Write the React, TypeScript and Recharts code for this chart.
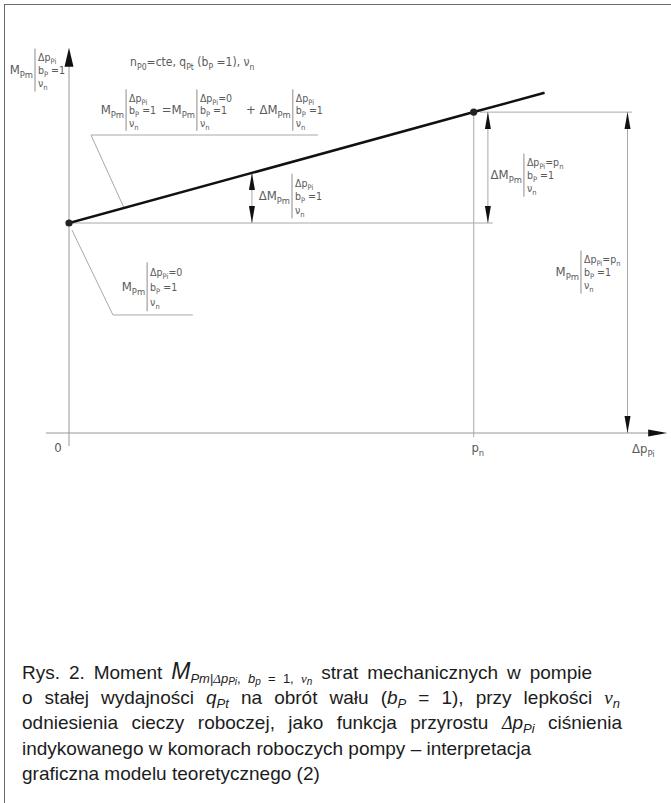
import React from "react";
import {
  ComposedChart,
  Line,
  XAxis,
  YAxis,
  ReferenceLine,
  ReferenceDot,
} from "recharts";

// Δp_Pi on the x axis (p_n = 100), M_Pm on the y axis
const pressure = [0, 100, 117.5];
const moment = [50, 76.4, 81.0];
const P_N = 100;
const M_0 = 50;
const M_N = 76.4;
const axisLabels = ["0", "p_{n}", "Δp_{Pi}"];

const lineData = pressure.map((p, i) => ({ dp: p, m: moment[i] }));

const CAD_FONT = "'Liberation Sans Narrow', 'DejaVu Sans Condensed', 'Liberation Sans', sans-serif";
const TXT = "#5a5a5a";
const GUIDE = "#a8a8a8";

// "Δp_{Pi}=p_{n}" -> tspans with subscripts
function rich(s: string, size: number) {
  const parts = s.split(/_\{([^}]*)\}/);
  const out: React.ReactNode[] = [];
  let shifted = false;
  const d = size * 0.3;
  parts.forEach((p, i) => {
    if (!p) return;
    if (i % 2 === 1) {
      out.push(
        <tspan key={i} dy={shifted ? 0 : d} fontSize={size * 0.72}>
          {p}
        </tspan>
      );
      shifted = true;
    } else {
      out.push(
        <tspan key={i} dy={shifted ? -d : 0} fontSize={size}>
          {p}
        </tspan>
      );
      shifted = false;
    }
  });
  return out;
}

const StackLabel = ({ cx, cy, main, rows, gap = 13.5 }: any) => (
  <g fill={TXT} fontFamily={CAD_FONT}>
    <text x={cx - 2} y={cy + 4} textAnchor="end" fontSize={13}>
      {rich(main, 13)}
    </text>
    <line
      x1={cx}
      x2={cx}
      y1={cy - gap * 1.5 - 2}
      y2={cy + gap * 1.5 + 2}
      stroke="#8c8c8c"
      strokeWidth={1}
    />
    {rows.map((r: string, i: number) => (
      <text key={i} x={cx + 3} y={cy + (i - 1) * gap + 4} fontSize={10.5}>
        {rich(r, 10.5)}
      </text>
    ))}
  </g>
);

const arrow =
  (dir: "up" | "down" | "right", len: number, hw: number) => (props: any) => {
    const { cx, cy } = props;
    let d = "";
    if (dir === "up") d = `M${cx},${cy} L${cx - hw},${cy + len} L${cx + hw},${cy + len} Z`;
    if (dir === "down") d = `M${cx},${cy} L${cx - hw},${cy - len} L${cx + hw},${cy - len} Z`;
    if (dir === "right") d = `M${cx},${cy} L${cx - len},${cy - hw} L${cx - len},${cy + hw} Z`;
    return <path d={d} fill="#111" />;
  };

const textAt =
  (s: string, anchor: "start" | "middle" | "end", size = 12) => (props: any) =>
    (
      <text
        x={props.cx}
        y={props.cy}
        textAnchor={anchor}
        fill={TXT}
        fontFamily={CAD_FONT}
        fontSize={size}
      >
        {rich(s, size)}
      </text>
    );

const stackAt = (main: string, rows: string[], gap?: number) => (props: any) =>
  <StackLabel cx={props.cx} cy={props.cy} main={main} rows={rows} gap={gap} />;

const guide = (a: [number, number], b: [number, number], key: string, color = GUIDE) => (
  <ReferenceLine
    key={key}
    segment={[
      { x: a[0], y: a[1] },
      { x: b[0], y: b[1] },
    ]}
    stroke={color}
    strokeWidth={1}
    ifOverflow="visible"
  />
);

const lineAt = (x: number) => M_0 + ((M_N - M_0) / P_N) * x;

const dimX = [45.2, 103.5, 138.0];

const sub = (t: string, size = 13) => (
  <span style={{ fontSize: size, fontStyle: "italic", verticalAlign: "-4px", lineHeight: 0 }}>
    {t}
  </span>
);
const serifI = (t: string, size = 19) => (
  <span style={{ fontFamily: "'Liberation Serif', serif", fontStyle: "italic", fontSize: size }}>
    {t}
  </span>
);
const small = (t: string) => (
  <span style={{ fontSize: 10, fontStyle: "italic", verticalAlign: "-2px" }}>{t}</span>
);

const justified = (w: number): React.CSSProperties => ({
  width: w,
  textAlign: "justify",
  textAlignLast: "justify",
});

export default function App() {
  return (
    <div style={{ position: "absolute", left: 0, top: 0, width: 671, height: 803, background: "#fff" }}>
      <div
        style={{
          position: "absolute",
          left: 4,
          top: 4,
          width: 667,
          height: 799,
          borderTop: "1.5px solid #6b6b6b",
          borderLeft: "1.5px solid #6b6b6b",
        }}
      />
      <div style={{ position: "absolute", left: 0, top: 0 }}>
        <ComposedChart
          width={671}
          height={803}
          data={lineData}
          margin={{ top: 13, right: 3, bottom: 370, left: 69 }}
        >
          <XAxis dataKey="dp" type="number" domain={[0, 148]} hide allowDataOverflow />
          <YAxis type="number" domain={[0, 100]} hide allowDataOverflow />

          {/* axes */}
          {guide([-5.7, 0], [146, 0], "xa", "#999")}
          {guide([0, -3.1], [0, 90], "ya", "#999")}
          {/* construction lines */}
          {guide([P_N, -1], [P_N, M_N], "pn")}
          {guide([0, M_0], [104.7, M_0], "m0")}
          {guide([101.5, M_N], [139.1, M_N], "mn")}
          {guide([dimX[0], lineAt(dimX[0])], [dimX[0], M_0], "d0")}
          {guide([dimX[1], M_N], [dimX[1], M_0], "d1")}
          {guide([dimX[2], M_N], [dimX[2], 0], "d2")}
          {/* leaders */}
          {guide([5.43, 70.95], [13.6, lineAt(13.6)], "l1")}
          {guide([5.43, 70.95], [61.5, 70.95], "l2")}
          {guide([0.74, 48.3], [10.86, 28.1], "l3")}
          {guide([10.86, 28.1], [30.6, 28.1], "l4")}

          <Line
            dataKey="m"
            type="linear"
            stroke="#111"
            strokeWidth={2.6}
            dot={false}
            activeDot={false}
            isAnimationActive={false}
          />
          <ReferenceDot x={0} y={M_0} r={3.6} fill="#222" stroke="none" ifOverflow="visible" />
          <ReferenceDot x={P_N} y={M_N} r={3.6} fill="#222" stroke="none" ifOverflow="visible" />

          {/* arrowheads */}
          <ReferenceDot x={0} y={91.7} r={0} ifOverflow="visible" shape={arrow("up", 19, 4.5)} />
          <ReferenceDot x={147.8} y={0} r={0} ifOverflow="visible" shape={arrow("right", 19, 3.5)} />
          <ReferenceDot x={dimX[0]} y={lineAt(dimX[0])} r={0} ifOverflow="visible" shape={arrow("up", 17, 3)} />
          <ReferenceDot x={dimX[0]} y={M_0} r={0} ifOverflow="visible" shape={arrow("down", 17, 3)} />
          <ReferenceDot x={dimX[1]} y={M_N} r={0} ifOverflow="visible" shape={arrow("up", 17, 3)} />
          <ReferenceDot x={dimX[1]} y={M_0} r={0} ifOverflow="visible" shape={arrow("down", 17, 3)} />
          <ReferenceDot x={dimX[2]} y={M_N} r={0} ifOverflow="visible" shape={arrow("up", 17, 3)} />
          <ReferenceDot x={dimX[2]} y={0} r={0} ifOverflow="visible" shape={arrow("down", 17, 3)} />

          {/* axis labels */}
          <ReferenceDot x={-2.7} y={-4.5} r={0} ifOverflow="visible" shape={textAt(axisLabels[0], "middle", 13)} />
          <ReferenceDot x={101} y={-4.6} r={0} ifOverflow="visible" shape={textAt(axisLabels[1], "middle", 13)} />
          <ReferenceDot x={139.1} y={-4.8} r={0} ifOverflow="visible" shape={textAt(axisLabels[2], "start", 13)} />

          {/* annotations */}
          <ReferenceDot
            x={-8.4}
            y={86.4}
            r={0}
            ifOverflow="visible"
            shape={stackAt("M_{Pm}", ["Δp_{Pi}", "b_{P} =1", "ν_{n}"], 13)}
          />
          <ReferenceDot
            x={15.1}
            y={87.4}
            r={0}
            ifOverflow="visible"
            shape={textAt("n_{P0}=cte, q_{Pt} (b_{P} =1), ν_{n}", "start", 12)}
          />
          <ReferenceDot x={14.1} y={76.9} r={0} ifOverflow="visible" shape={stackAt("M_{Pm}", ["Δp_{Pi}", "b_{P} =1", "ν_{n}"], 12.5)} />
          <ReferenceDot x={31.6} y={76.9} r={0} ifOverflow="visible" shape={stackAt("=M_{Pm}", ["Δp_{Pi}=0", "b_{P} =1", "ν_{n}"], 12.5)} />
          <ReferenceDot x={55.3} y={76.9} r={0} ifOverflow="visible" shape={stackAt("+ ΔM_{Pm}", ["Δp_{Pi}", "b_{P} =1", "ν_{n}"], 12.5)} />
          <ReferenceDot x={55.1} y={56.4} r={0} ifOverflow="visible" shape={stackAt("ΔM_{Pm}", ["Δp_{Pi}", "b_{P} =1", "ν_{n}"])} />
          <ReferenceDot x={112.4} y={61.4} r={0} ifOverflow="visible" shape={stackAt("ΔM_{Pm}", ["Δp_{Pi}=p_{n}", "b_{P} =1", "ν_{n}"], 13)} />
          <ReferenceDot x={126.5} y={38.3} r={0} ifOverflow="visible" shape={stackAt("M_{Pm}", ["Δp_{Pi}=p_{n}", "b_{P} =1", "ν_{n}"], 13)} />
          <ReferenceDot x={19.3} y={34.8} r={0} ifOverflow="visible" shape={stackAt("M_{Pm}", ["Δp_{Pi}=0", "b_{P} =1", "ν_{n}"], 15)} />
        </ComposedChart>
      </div>

      <div
        style={{
          position: "absolute",
          left: 22,
          top: 659,
          fontFamily: "'Liberation Sans', Arial, sans-serif",
          fontSize: 19,
          lineHeight: "25px",
          color: "#1c1c1c",
        }}
      >
        <div style={justified(570)}>
          Rys. 2. Moment <i style={{ fontSize: 23 }}>M</i>
          <span style={{ verticalAlign: "-4px", lineHeight: 0, fontSize: 13 }}>
            <i>Pm</i>|{serifI("Δ", 13)}
            <i>p</i>
            {small("Pi")}, <i>b</i>
            {small("p")} = 1, {serifI("ν", 13)}
            {small("n")}
          </span>{" "}
          strat mechanicznych w pompie
        </div>
        <div style={justified(598)}>
          o stałej wydajności <i>q</i>
          {sub("Pt")} na obrót wału (<i>b</i>
          {sub("P")} = 1), przy lepkości {serifI("ν")}
          {sub("n")}
        </div>
        <div style={justified(600)}>
          odniesienia cieczy roboczej, jako funkcja przyrostu {serifI("Δ", 18)}
          <i>p</i>
          {sub("Pi")} ciśnienia
        </div>
        <div>indykowanego w komorach roboczych pompy – interpretacja</div>
        <div>graficzna modelu teoretycznego (2)</div>
      </div>
    </div>
  );
}
